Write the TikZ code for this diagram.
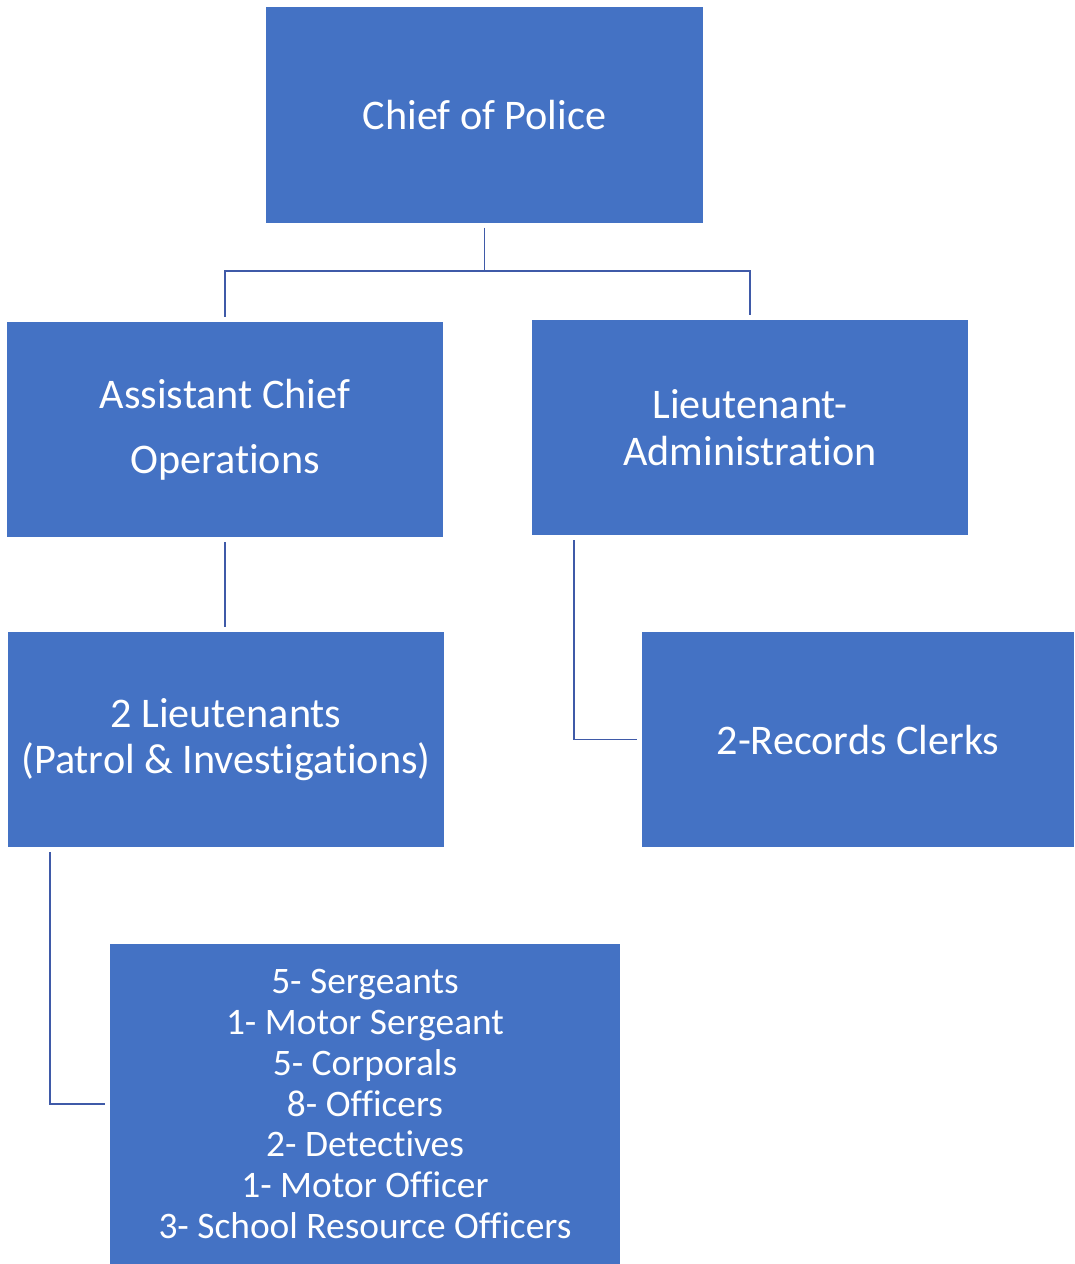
\documentclass[tikz,border=0pt]{standalone}
\usepackage{fontspec}
\setmainfont[Ligatures=NoCommon]{Carlito}
\definecolor{boxblue}{RGB}{68,114,196}
\definecolor{lineblue}{RGB}{63,90,168}
\newcommand{\tii}{t\kern0pt i}

\begin{document}
\begin{tikzpicture}[x=0.025cm,y=-0.025cm,
  box/.style={draw=none,fill=boxblue,text=white,align=center,inner sep=0pt,
    minimum width=10.9cm,minimum height=5.375cm,font=\fontsize{30}{33}\selectfont},
  link/.style={draw=lineblue,line width=1.3pt,shorten <=3.6pt,shorten >=3.6pt}]
\useasboundingbox (0,0) rectangle (1074,1264);
\node[box] (chief) at (484.5,115) {Chief of Police};
\node[box] (asst) at (225,429.5) {Assistant Chief\\[13pt]Opera\tii ons};
\node[box] (ltadm) at (750,427.5) {Lieutenant-\\Administra\tii on};
\node[box] (lts) at (226,739.5) {2 Lieutenants\\(Patrol \& Investiga\tii ons)};
\node[box,minimum width=10.8cm] (rec) at (858,739.5) {2-Records Clerks};
\node[box,minimum width=12.75cm,minimum height=8cm,font=\fontsize{26.6}{29}\selectfont] (staff) at (365,1104)
  {5- Sergeants\\1- Motor Sergeant\\5- Corporals\\8- Officers\\2- Detec\tii ves\\1- Motor Officer\\3- School Resource Officers};
% connectors
\draw[link] (chief.south) -- (chief.south |- 0,271) -| (asst.north);
\draw[link] (chief.south) -- (chief.south |- 0,271) -| (ltadm.north);
\draw[link] (asst.south) -- (asst.south |- lts.north);
\draw[link] (ltadm.south -| 574,0) |- (rec.west);
\draw[link] (lts.south -| 50,0) |- (staff.west);
\end{tikzpicture}
\end{document}
